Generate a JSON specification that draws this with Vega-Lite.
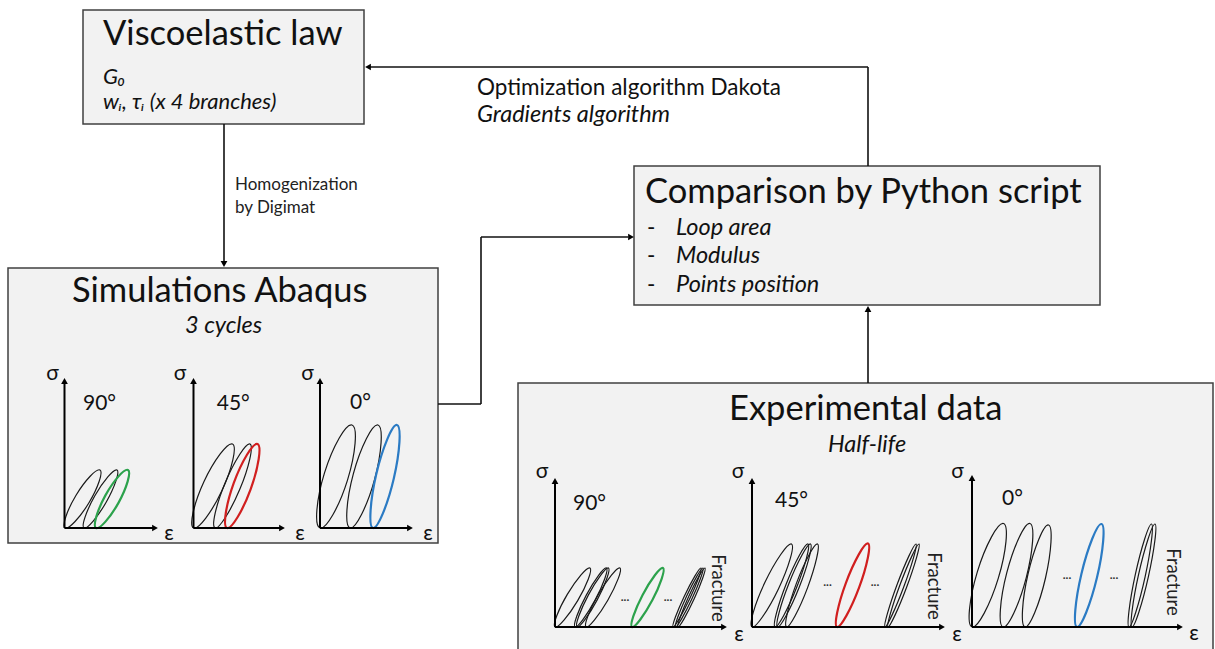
{
  "$schema": "https://vega.github.io/schema/vega-lite/v6.json",
  "width": 1215,
  "height": 649,
  "autosize": {"type": "fit", "contains": "padding"},
  "padding": 0,
  "background": "#ffffff",
  "config": {"view": {"stroke": null}, "font": "Lato"},
  "datasets": {
    "boxes": [
      {"box": "Viscoelastic law", "x": 83, "y": 10, "x2": 364, "y2": 124},
      {"box": "Comparison by Python script", "x": 634, "y": 166, "x2": 1100, "y2": 305},
      {"box": "Simulations Abaqus", "x": 8, "y": 268, "x2": 438, "y2": 543},
      {"box": "Experimental data", "x": 518, "y": 383, "x2": 1213, "y2": 662}
    ],
    "segments": [
      {"part": "flow", "x": 224, "y": 124, "x2": 224, "y2": 262},
      {"part": "flow", "x": 868, "y": 166, "x2": 868, "y2": 67},
      {"part": "flow", "x": 868, "y": 67, "x2": 370, "y2": 67},
      {"part": "flow", "x": 438, "y": 404, "x2": 481, "y2": 404},
      {"part": "flow", "x": 481, "y": 404, "x2": 481, "y2": 237},
      {"part": "flow", "x": 481, "y": 237, "x2": 628, "y2": 237},
      {"part": "flow", "x": 868, "y": 383, "x2": 868, "y2": 312},
      {"part": "axis", "x": 64.5, "y": 528, "x2": 64.5, "y2": 383},
      {"part": "axis", "x": 64.5, "y": 528, "x2": 153, "y2": 528},
      {"part": "axis", "x": 193.5, "y": 528, "x2": 193.5, "y2": 383},
      {"part": "axis", "x": 193.5, "y": 528, "x2": 280, "y2": 528},
      {"part": "axis", "x": 320, "y": 528, "x2": 320, "y2": 383},
      {"part": "axis", "x": 320, "y": 528, "x2": 408, "y2": 528},
      {"part": "axis", "x": 555, "y": 627, "x2": 555, "y2": 483},
      {"part": "axis", "x": 555, "y": 627, "x2": 722, "y2": 627},
      {"part": "axis", "x": 752, "y": 627, "x2": 752, "y2": 483},
      {"part": "axis", "x": 752, "y": 627, "x2": 940, "y2": 627},
      {"part": "axis", "x": 972, "y": 627, "x2": 972, "y2": 480},
      {"part": "axis", "x": 972, "y": 627, "x2": 1178, "y2": 627}
    ],
    "tips": [
      {"x": 224, "y": 264, "dir": "down"},
      {"x": 368, "y": 67, "dir": "left"},
      {"x": 631, "y": 237, "dir": "right"},
      {"x": 868, "y": 309, "dir": "up"},
      {"x": 64.5, "y": 381, "dir": "up"},
      {"x": 155, "y": 528, "dir": "right"},
      {"x": 193.5, "y": 381, "dir": "up"},
      {"x": 282, "y": 528, "dir": "right"},
      {"x": 320, "y": 381, "dir": "up"},
      {"x": 410, "y": 528, "dir": "right"},
      {"x": 555, "y": 481, "dir": "up"},
      {"x": 724, "y": 627, "dir": "right"},
      {"x": 752, "y": 481, "dir": "up"},
      {"x": 942, "y": 627, "dir": "right"},
      {"x": 972, "y": 478, "dir": "up"},
      {"x": 1180, "y": 627, "dir": "right"}
    ],
    "loops": [
      {"loop": "s90a", "hl": "none", "o": 1, "x": 65, "y": 528},
      {"loop": "s90a", "hl": "none", "o": 2, "x": 76.05, "y": 495.2},
      {"loop": "s90a", "hl": "none", "o": 3, "x": 100, "y": 470},
      {"loop": "s90a", "hl": "none", "o": 4, "x": 88.95, "y": 502.8},
      {"loop": "s90b", "hl": "none", "o": 1, "x": 84, "y": 528},
      {"loop": "s90b", "hl": "none", "o": 2, "x": 94.85, "y": 495.8},
      {"loop": "s90b", "hl": "none", "o": 3, "x": 117, "y": 470},
      {"loop": "s90b", "hl": "none", "o": 4, "x": 106.15, "y": 502.2},
      {"loop": "s90c", "hl": "90°", "o": 1, "x": 96, "y": 528},
      {"loop": "s90c", "hl": "90°", "o": 2, "x": 105.4, "y": 495.4},
      {"loop": "s90c", "hl": "90°", "o": 3, "x": 128, "y": 470},
      {"loop": "s90c", "hl": "90°", "o": 4, "x": 118.6, "y": 502.6},
      {"loop": "s45a", "hl": "none", "o": 1, "x": 193.5, "y": 528},
      {"loop": "s45a", "hl": "none", "o": 2, "x": 203.9, "y": 481.8},
      {"loop": "s45a", "hl": "none", "o": 3, "x": 232.5, "y": 444},
      {"loop": "s45a", "hl": "none", "o": 4, "x": 222.1, "y": 490.2},
      {"loop": "s45b", "hl": "none", "o": 1, "x": 215, "y": 528},
      {"loop": "s45b", "hl": "none", "o": 2, "x": 225.1, "y": 482.9},
      {"loop": "s45b", "hl": "none", "o": 3, "x": 250, "y": 444},
      {"loop": "s45b", "hl": "none", "o": 4, "x": 239.9, "y": 489.1},
      {"loop": "s45c", "hl": "45°", "o": 1, "x": 227, "y": 528},
      {"loop": "s45c", "hl": "45°", "o": 2, "x": 233.8, "y": 482.9},
      {"loop": "s45c", "hl": "45°", "o": 3, "x": 257.5, "y": 444},
      {"loop": "s45c", "hl": "45°", "o": 4, "x": 250.7, "y": 489.1},
      {"loop": "s0a", "hl": "none", "o": 1, "x": 320, "y": 528},
      {"loop": "s0a", "hl": "none", "o": 2, "x": 324.5, "y": 472.9},
      {"loop": "s0a", "hl": "none", "o": 3, "x": 352, "y": 425},
      {"loop": "s0a", "hl": "none", "o": 4, "x": 347.5, "y": 480.1},
      {"loop": "s0b", "hl": "none", "o": 1, "x": 350, "y": 528},
      {"loop": "s0b", "hl": "none", "o": 2, "x": 353.4, "y": 473.6},
      {"loop": "s0b", "hl": "none", "o": 3, "x": 378, "y": 425},
      {"loop": "s0b", "hl": "none", "o": 4, "x": 374.6, "y": 479.4},
      {"loop": "s0c", "hl": "0°", "o": 1, "x": 373, "y": 528},
      {"loop": "s0c", "hl": "0°", "o": 2, "x": 376.2, "y": 474.5},
      {"loop": "s0c", "hl": "0°", "o": 3, "x": 397, "y": 425},
      {"loop": "s0c", "hl": "0°", "o": 4, "x": 393.8, "y": 478.5},
      {"loop": "e90a", "hl": "none", "o": 1, "x": 555, "y": 627},
      {"loop": "e90a", "hl": "none", "o": 2, "x": 567.3, "y": 594.4},
      {"loop": "e90a", "hl": "none", "o": 3, "x": 590, "y": 568},
      {"loop": "e90a", "hl": "none", "o": 4, "x": 577.7, "y": 600.6},
      {"loop": "e90b1", "hl": "none", "o": 1, "x": 575, "y": 627},
      {"loop": "e90b1", "hl": "none", "o": 2, "x": 586.3, "y": 595.1},
      {"loop": "e90b1", "hl": "none", "o": 3, "x": 606.5, "y": 568},
      {"loop": "e90b1", "hl": "none", "o": 4, "x": 595.2, "y": 599.9},
      {"loop": "e90b2", "hl": "none", "o": 1, "x": 577, "y": 627},
      {"loop": "e90b2", "hl": "none", "o": 2, "x": 588.3, "y": 595.1},
      {"loop": "e90b2", "hl": "none", "o": 3, "x": 608.5, "y": 568},
      {"loop": "e90b2", "hl": "none", "o": 4, "x": 597.2, "y": 599.9},
      {"loop": "e90c", "hl": "none", "o": 1, "x": 586, "y": 627},
      {"loop": "e90c", "hl": "none", "o": 2, "x": 598.2, "y": 594.8},
      {"loop": "e90c", "hl": "none", "o": 3, "x": 620, "y": 568},
      {"loop": "e90c", "hl": "none", "o": 4, "x": 607.8, "y": 600.2},
      {"loop": "e90h", "hl": "90°", "o": 1, "x": 632, "y": 627},
      {"loop": "e90h", "hl": "90°", "o": 2, "x": 642.6, "y": 594.9},
      {"loop": "e90h", "hl": "90°", "o": 3, "x": 663, "y": 568},
      {"loop": "e90h", "hl": "90°", "o": 4, "x": 652.4, "y": 600.1},
      {"loop": "e90f1", "hl": "none", "o": 1, "x": 673, "y": 627},
      {"loop": "e90f1", "hl": "none", "o": 2, "x": 684.3, "y": 596.2},
      {"loop": "e90f1", "hl": "none", "o": 3, "x": 701, "y": 568},
      {"loop": "e90f1", "hl": "none", "o": 4, "x": 689.7, "y": 598.8},
      {"loop": "e90f2", "hl": "none", "o": 1, "x": 675.5, "y": 627},
      {"loop": "e90f2", "hl": "none", "o": 2, "x": 686.55, "y": 596.2},
      {"loop": "e90f2", "hl": "none", "o": 3, "x": 703, "y": 568},
      {"loop": "e90f2", "hl": "none", "o": 4, "x": 691.95, "y": 598.8},
      {"loop": "e90f3", "hl": "none", "o": 1, "x": 678, "y": 627},
      {"loop": "e90f3", "hl": "none", "o": 2, "x": 688.8, "y": 596.2},
      {"loop": "e90f3", "hl": "none", "o": 3, "x": 705, "y": 568},
      {"loop": "e90f3", "hl": "none", "o": 4, "x": 694.2, "y": 598.8},
      {"loop": "e45a", "hl": "none", "o": 1, "x": 752, "y": 627},
      {"loop": "e45a", "hl": "none", "o": 2, "x": 764.95, "y": 582.3},
      {"loop": "e45a", "hl": "none", "o": 3, "x": 791.5, "y": 544},
      {"loop": "e45a", "hl": "none", "o": 4, "x": 778.55, "y": 588.7},
      {"loop": "e45b1", "hl": "none", "o": 1, "x": 775, "y": 627},
      {"loop": "e45b1", "hl": "none", "o": 2, "x": 786.4, "y": 583.5},
      {"loop": "e45b1", "hl": "none", "o": 3, "x": 808, "y": 544},
      {"loop": "e45b1", "hl": "none", "o": 4, "x": 796.6, "y": 587.5},
      {"loop": "e45b2", "hl": "none", "o": 1, "x": 777.5, "y": 627},
      {"loop": "e45b2", "hl": "none", "o": 2, "x": 788.9, "y": 583.5},
      {"loop": "e45b2", "hl": "none", "o": 3, "x": 810.5, "y": 544},
      {"loop": "e45b2", "hl": "none", "o": 4, "x": 799.1, "y": 587.5},
      {"loop": "e45c", "hl": "none", "o": 1, "x": 786.5, "y": 627},
      {"loop": "e45c", "hl": "none", "o": 2, "x": 796.4, "y": 583.4},
      {"loop": "e45c", "hl": "none", "o": 3, "x": 817.5, "y": 544},
      {"loop": "e45c", "hl": "none", "o": 4, "x": 807.6, "y": 587.6},
      {"loop": "e45h", "hl": "45°", "o": 1, "x": 837, "y": 627},
      {"loop": "e45h", "hl": "45°", "o": 2, "x": 845.94, "y": 582.81},
      {"loop": "e45h", "hl": "45°", "o": 3, "x": 868, "y": 543.5},
      {"loop": "e45h", "hl": "45°", "o": 4, "x": 859.06, "y": 587.69},
      {"loop": "e45f1", "hl": "none", "o": 1, "x": 885, "y": 627},
      {"loop": "e45f1", "hl": "none", "o": 2, "x": 897.2, "y": 584.3},
      {"loop": "e45f1", "hl": "none", "o": 3, "x": 916, "y": 544},
      {"loop": "e45f1", "hl": "none", "o": 4, "x": 903.8, "y": 586.7},
      {"loop": "e45f2", "hl": "none", "o": 1, "x": 888, "y": 627},
      {"loop": "e45f2", "hl": "none", "o": 2, "x": 900.2, "y": 584.3},
      {"loop": "e45f2", "hl": "none", "o": 3, "x": 919, "y": 544},
      {"loop": "e45f2", "hl": "none", "o": 4, "x": 906.8, "y": 586.7},
      {"loop": "e0a", "hl": "none", "o": 1, "x": 972, "y": 627},
      {"loop": "e0a", "hl": "none", "o": 2, "x": 977.25, "y": 572.05},
      {"loop": "e0a", "hl": "none", "o": 3, "x": 1003.5, "y": 523.5},
      {"loop": "e0a", "hl": "none", "o": 4, "x": 998.25, "y": 578.45},
      {"loop": "e0b", "hl": "none", "o": 1, "x": 1003, "y": 627},
      {"loop": "e0b", "hl": "none", "o": 2, "x": 1006.8, "y": 572.7},
      {"loop": "e0b", "hl": "none", "o": 3, "x": 1030, "y": 523.5},
      {"loop": "e0b", "hl": "none", "o": 4, "x": 1026.2, "y": 577.8},
      {"loop": "e0c", "hl": "none", "o": 1, "x": 1025, "y": 627},
      {"loop": "e0c", "hl": "none", "o": 2, "x": 1028, "y": 574},
      {"loop": "e0c", "hl": "none", "o": 3, "x": 1048.5, "y": 525},
      {"loop": "e0c", "hl": "none", "o": 4, "x": 1045.5, "y": 578},
      {"loop": "e0h", "hl": "0°", "o": 1, "x": 1077, "y": 627},
      {"loop": "e0h", "hl": "0°", "o": 2, "x": 1081.45, "y": 573.65},
      {"loop": "e0h", "hl": "0°", "o": 3, "x": 1101.5, "y": 524},
      {"loop": "e0h", "hl": "0°", "o": 4, "x": 1097.05, "y": 577.35},
      {"loop": "e0f1", "hl": "none", "o": 1, "x": 1129, "y": 627},
      {"loop": "e0f1", "hl": "none", "o": 2, "x": 1135.35, "y": 574.4},
      {"loop": "e0f1", "hl": "none", "o": 3, "x": 1151.5, "y": 524},
      {"loop": "e0f1", "hl": "none", "o": 4, "x": 1145.15, "y": 576.6},
      {"loop": "e0f2", "hl": "none", "o": 1, "x": 1132, "y": 627},
      {"loop": "e0f2", "hl": "none", "o": 2, "x": 1138.6, "y": 574.4},
      {"loop": "e0f2", "hl": "none", "o": 3, "x": 1155, "y": 524},
      {"loop": "e0f2", "hl": "none", "o": 4, "x": 1148.4, "y": 576.6}
    ],
    "labels": [
      {"role": "title", "text": "Viscoelastic law", "x": 103, "y": 45},
      {"role": "title", "text": "Comparison by Python script", "x": 645, "y": 203},
      {"role": "title", "text": "Simulations Abaqus", "x": 72, "y": 302},
      {"role": "title", "text": "Experimental data", "x": 729, "y": 420},
      {"role": "note", "text": "Optimization algorithm Dakota", "x": 477, "y": 95},
      {"role": "note", "text": "-", "x": 647, "y": 235},
      {"role": "note", "text": "-", "x": 647, "y": 263},
      {"role": "note", "text": "-", "x": 647, "y": 292},
      {"role": "param", "text": "G₀", "x": 103, "y": 84},
      {"role": "param", "text": "wᵢ, τᵢ (x 4 branches)", "x": 103, "y": 109},
      {"role": "italic", "text": "Gradients algorithm", "x": 477, "y": 122},
      {"role": "italic", "text": "Loop area", "x": 676, "y": 235},
      {"role": "italic", "text": "Modulus", "x": 676, "y": 263},
      {"role": "italic", "text": "Points position", "x": 676, "y": 292},
      {"role": "italic", "text": "3 cycles", "x": 185, "y": 333},
      {"role": "italic", "text": "Half-life", "x": 828, "y": 452},
      {"role": "small", "text": "Homogenization", "x": 235, "y": 190},
      {"role": "small", "text": "by Digimat", "x": 235, "y": 213},
      {"role": "angle", "text": "90°", "x": 83, "y": 410},
      {"role": "angle", "text": "45°", "x": 216.7, "y": 410},
      {"role": "angle", "text": "0°", "x": 350, "y": 409},
      {"role": "angle", "text": "90°", "x": 573, "y": 510},
      {"role": "angle", "text": "45°", "x": 775, "y": 507},
      {"role": "angle", "text": "0°", "x": 1002, "y": 505},
      {"role": "symbol", "text": "σ", "x": 52.5, "y": 380},
      {"role": "symbol", "text": "σ", "x": 180, "y": 380},
      {"role": "symbol", "text": "σ", "x": 307.5, "y": 380},
      {"role": "symbol", "text": "σ", "x": 542, "y": 478},
      {"role": "symbol", "text": "σ", "x": 738, "y": 478},
      {"role": "symbol", "text": "σ", "x": 957.5, "y": 478},
      {"role": "symbol", "text": "ε", "x": 169, "y": 540},
      {"role": "symbol", "text": "ε", "x": 300, "y": 540},
      {"role": "symbol", "text": "ε", "x": 428, "y": 540},
      {"role": "symbol", "text": "ε", "x": 739, "y": 641},
      {"role": "symbol", "text": "ε", "x": 957, "y": 641},
      {"role": "symbol", "text": "ε", "x": 1194, "y": 640},
      {"role": "dots", "text": "...", "x": 625, "y": 597},
      {"role": "dots", "text": "...", "x": 668, "y": 597},
      {"role": "dots", "text": "...", "x": 827.5, "y": 582},
      {"role": "dots", "text": "...", "x": 875, "y": 582},
      {"role": "dots", "text": "...", "x": 1067, "y": 575},
      {"role": "dots", "text": "...", "x": 1114, "y": 575},
      {"role": "fracture", "text": "Fracture", "x": 718, "y": 588},
      {"role": "fracture", "text": "Fracture", "x": 934, "y": 586},
      {"role": "fracture", "text": "Fracture", "x": 1173, "y": 582}
    ]
  },
  "layer": [
    {
      "data": {"name": "boxes"},
      "mark": {"type": "rect", "fill": "#f2f2f2", "stroke": "#404040", "strokeWidth": 1.5, "clip": true},
      "encoding": {
        "x": {"field": "x", "type": "quantitative", "scale": {"domain": [0, 1215], "nice": false, "zero": false}, "axis": null},
        "x2": {"field": "x2"},
        "y": {"field": "y", "type": "quantitative", "scale": {"domain": [0, 649], "reverse": true, "nice": false, "zero": false}, "axis": null},
        "y2": {"field": "y2"}
      }
    },
    {
      "data": {"name": "segments"},
      "transform": [{"filter": "datum.part === 'flow'"}],
      "mark": {"type": "rule", "color": "#111111", "strokeWidth": 1.6},
      "encoding": {
        "x": {"field": "x", "type": "quantitative"},
        "x2": {"field": "x2"},
        "y": {"field": "y", "type": "quantitative"},
        "y2": {"field": "y2"}
      }
    },
    {
      "data": {"name": "loops"},
      "transform": [{"filter": "datum.hl === 'none'"}],
      "mark": {"type": "line", "interpolate": "cardinal-closed", "tension": -0.55, "strokeWidth": 1.2, "color": "#1a1a1a"},
      "encoding": {
        "x": {"field": "x", "type": "quantitative"},
        "y": {"field": "y", "type": "quantitative"},
        "detail": {"field": "loop", "type": "nominal"},
        "order": {"field": "o", "type": "quantitative"}
      }
    },
    {
      "data": {"name": "loops"},
      "transform": [{"filter": "datum.hl !== 'none'"}],
      "mark": {"type": "line", "interpolate": "cardinal-closed", "tension": -0.55, "strokeWidth": 2.2},
      "encoding": {
        "x": {"field": "x", "type": "quantitative"},
        "y": {"field": "y", "type": "quantitative"},
        "detail": {"field": "loop", "type": "nominal"},
        "order": {"field": "o", "type": "quantitative"},
        "color": {"field": "hl", "type": "nominal", "scale": {"domain": ["90°", "45°", "0°"], "range": ["#2ca24c", "#d11f1f", "#2b7bc4"]}, "legend": null}
      }
    },
    {
      "data": {"name": "segments"},
      "transform": [{"filter": "datum.part === 'axis'"}],
      "mark": {"type": "rule", "color": "#000000", "strokeWidth": 2},
      "encoding": {
        "x": {"field": "x", "type": "quantitative"},
        "x2": {"field": "x2"},
        "y": {"field": "y", "type": "quantitative"},
        "y2": {"field": "y2"}
      }
    },
    {
      "data": {"name": "tips"},
      "mark": {"type": "point", "filled": true, "color": "#000000", "opacity": 1, "size": 45},
      "encoding": {
        "x": {"field": "x", "type": "quantitative"},
        "y": {"field": "y", "type": "quantitative"},
        "shape": {"field": "dir", "type": "nominal", "scale": {"domain": ["up", "down", "left", "right"], "range": ["triangle-up", "triangle-down", "triangle-left", "triangle-right"]}, "legend": null}
      }
    },
    {
      "data": {"name": "labels"},
      "transform": [{"filter": "datum.role === 'title'"}],
      "mark": {"type": "text", "font": "Lato", "fontSize": 34.5, "align": "left", "baseline": "alphabetic", "color": "#111111"},
      "encoding": {"x": {"field": "x", "type": "quantitative"}, "y": {"field": "y", "type": "quantitative"}, "text": {"field": "text"}}
    },
    {
      "data": {"name": "labels"},
      "transform": [{"filter": "datum.role === 'note'"}],
      "mark": {"type": "text", "font": "Lato", "fontSize": 22.5, "align": "left", "baseline": "alphabetic", "color": "#111111"},
      "encoding": {"x": {"field": "x", "type": "quantitative"}, "y": {"field": "y", "type": "quantitative"}, "text": {"field": "text"}}
    },
    {
      "data": {"name": "labels"},
      "transform": [{"filter": "datum.role === 'param'"}],
      "mark": {"type": "text", "font": "Lato", "fontSize": 22, "fontStyle": "italic", "align": "left", "baseline": "alphabetic", "color": "#111111"},
      "encoding": {"x": {"field": "x", "type": "quantitative"}, "y": {"field": "y", "type": "quantitative"}, "text": {"field": "text"}}
    },
    {
      "data": {"name": "labels"},
      "transform": [{"filter": "datum.role === 'italic'"}],
      "mark": {"type": "text", "font": "Lato", "fontSize": 23.5, "fontStyle": "italic", "align": "left", "baseline": "alphabetic", "color": "#111111"},
      "encoding": {"x": {"field": "x", "type": "quantitative"}, "y": {"field": "y", "type": "quantitative"}, "text": {"field": "text"}}
    },
    {
      "data": {"name": "labels"},
      "transform": [{"filter": "datum.role === 'small'"}],
      "mark": {"type": "text", "font": "Lato", "fontSize": 17, "align": "left", "baseline": "alphabetic", "color": "#222222"},
      "encoding": {"x": {"field": "x", "type": "quantitative"}, "y": {"field": "y", "type": "quantitative"}, "text": {"field": "text"}}
    },
    {
      "data": {"name": "labels"},
      "transform": [{"filter": "datum.role === 'angle'"}],
      "mark": {"type": "text", "font": "Lato", "fontSize": 21, "align": "left", "baseline": "alphabetic", "color": "#111111"},
      "encoding": {"x": {"field": "x", "type": "quantitative"}, "y": {"field": "y", "type": "quantitative"}, "text": {"field": "text"}}
    },
    {
      "data": {"name": "labels"},
      "transform": [{"filter": "datum.role === 'symbol'"}],
      "mark": {"type": "text", "font": "Lato", "fontSize": 21, "align": "center", "baseline": "alphabetic", "color": "#111111"},
      "encoding": {"x": {"field": "x", "type": "quantitative"}, "y": {"field": "y", "type": "quantitative"}, "text": {"field": "text"}}
    },
    {
      "data": {"name": "labels"},
      "transform": [{"filter": "datum.role === 'dots'"}],
      "mark": {"type": "text", "font": "Lato", "fontSize": 12, "fontWeight": "bold", "align": "center", "baseline": "middle", "color": "#333333"},
      "encoding": {"x": {"field": "x", "type": "quantitative"}, "y": {"field": "y", "type": "quantitative"}, "text": {"field": "text"}}
    },
    {
      "data": {"name": "labels"},
      "transform": [{"filter": "datum.role === 'fracture'"}],
      "mark": {"type": "text", "font": "Lato", "fontSize": 18.5, "angle": 90, "align": "center", "baseline": "middle", "color": "#222222"},
      "encoding": {"x": {"field": "x", "type": "quantitative"}, "y": {"field": "y", "type": "quantitative"}, "text": {"field": "text"}}
    }
  ]
}
